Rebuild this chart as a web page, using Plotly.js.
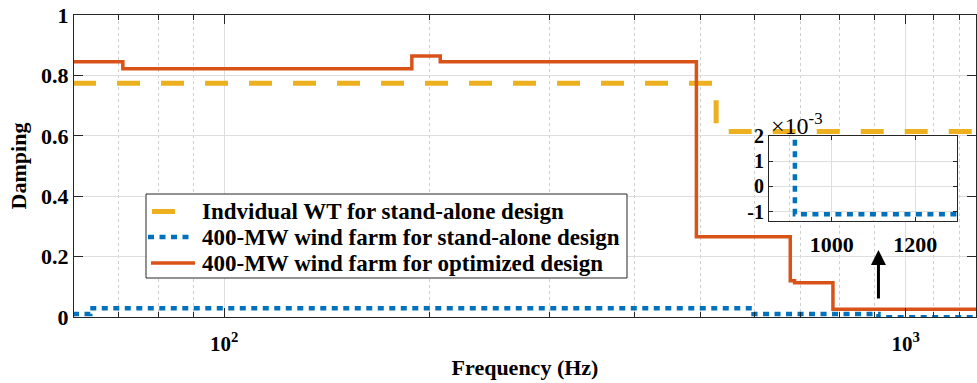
<!DOCTYPE html>
<html><head><meta charset="utf-8">
<script src="https://cdn.plot.ly/plotly-3.0.1.min.js"></script>
<style>html,body{margin:0;padding:0;background:#fff}#chart{width:977px;height:383px}</style>
</head><body><div id="chart"></div>
<script>
// ---- data ----
const legendNames = ['Indvidual WT for stand-alone design', '400-MW wind farm for stand-alone design', '400-MW wind farm for optimized design'];
const freqWT = [60, 527, 1300];
const dampWT = [0.774, 0.614, 0.614];
const freqSA = [60, 63.6, 598, 912, 1300];
const dampSA = [0.01, 0.029, 0.01, -0.0011, -0.0011];
const freqOpt = [60, 71, 188.5, 207.5, 493, 677, 687, 782, 1300];
const dampOpt = [0.845, 0.822, 0.864, 0.845, 0.266, 0.12, 0.113, 0.026, 0.026];
const xTickVals = [100, 1000];
const xTickText = ['10<sup>2</sup>', '10<sup>3</sup>'];
const xMinorVals = [70, 80, 90, 200, 300, 400, 500, 600, 700, 800, 900, 1100, 1200];
const yTickVals = [0, 0.2, 0.4, 0.6, 0.8, 1];
const yTickText = ['0', '0.2', '0.4', '0.6', '0.8', '1'];
const insetXTicks = [1000, 1200];
const insetXMinor = [900, 1100];
const insetYTicks = [-0.001, 0, 0.001, 0.002];
const insetYText = ['-1', '0', '1', '2'];

const FONT = '"Liberation Serif", "Times New Roman", Times, serif';
const AX = '#262626';
const GRID = '#dedede';
const cYellow = '#EDB120', cBlue = '#0072BD', cOrange = '#D95319';
const bf = (s) => ({family: FONT, size: s, color: '#000', weight: 'bold'});

const lineWT = {shape: 'hv', color: cYellow, width: 5, dash: '23px,21px'};
const lineSA = {shape: 'hv', color: cBlue, width: 4.5, dash: '6px,5.5px'};
const lineOpt = {shape: 'hv', color: cOrange, width: 3.5};
const lineStyles = [lineWT, lineSA, lineOpt];

const traces = [
  {x: freqWT, y: dampWT, name: legendNames[0], mode: 'lines', line: lineWT},
  {x: freqSA, y: dampSA, name: legendNames[1], mode: 'lines', line: lineSA},
  {x: freqOpt, y: dampOpt, name: legendNames[2], mode: 'lines', line: lineOpt},
  {x: freqSA, y: dampSA, xaxis: 'x2', yaxis: 'y2', mode: 'lines', line: lineSA}
];

// plot-area geometry (px) for the hand-built legend box
const M = {l: 74, r: 1, t: 15, b: 66};
const PW = 977 - M.l - M.r, PH = 383 - M.t - M.b;
const px = p => (p - M.l) / PW;
const py = p => (383 - M.b - p) / PH;
const LEG = {l: 146, r: 627, t: 194, b: 278, textX: 200};
const legRowY = [211.5, 237, 263];
const legSample = [[152, 175], [148, 191], [151, 195]];

const shapes = [
  {type: 'rect', xref: 'paper', yref: 'paper', x0: px(LEG.l), x1: px(LEG.r), y0: py(LEG.b), y1: py(LEG.t),
   fillcolor: '#fff', line: {color: AX, width: 1}, layer: 'above'}
];
const annotations = [];
legendNames.forEach((n, i) => {
  const st = lineStyles[i];
  shapes.push({type: 'line', xref: 'paper', yref: 'paper', x0: px(legSample[i][0]), x1: px(legSample[i][1]),
    y0: py(legRowY[i]), y1: py(legRowY[i]), line: {color: st.color, width: st.width, dash: st.dash || 'solid'}, layer: 'above'});
  annotations.push({xref: 'paper', yref: 'paper', x: px(LEG.textX), y: py(legRowY[i]), xanchor: 'left', yanchor: 'middle',
    text: n, showarrow: false, font: bf(23)});
});
annotations.push(
  {xref: 'x2 domain', yref: 'y2 domain', x: 0.0, y: 1, xanchor: 'left', yanchor: 'bottom', yshift: -5,
   text: '×10<sup>-3</sup>', showarrow: false, font: {family: FONT, size: 24, color: '#000', weight: 'normal'}},
  {xref: 'x', yref: 'y', x: Math.log10(912), y: 0.222, ax: 0, ay: 50, text: '', showarrow: true,
   arrowhead: 2, arrowsize: 1, arrowwidth: 3, arrowcolor: '#000', standoff: 0}
);

const layout = {
  width: 977, height: 383,
  margin: M,
  paper_bgcolor: '#fff', plot_bgcolor: '#fff',
  font: bf(22),
  showlegend: false,
  xaxis: {
    type: 'log', range: [Math.log10(60.2), Math.log10(1268)],
    tickmode: 'array', tickvals: xTickVals, ticktext: xTickText,
    ticks: 'inside', ticklen: 9, tickcolor: AX, showline: true, linecolor: AX, linewidth: 1, mirror: 'ticks',
    showgrid: true, gridcolor: GRID, zeroline: false, ticklabelstandoff: 8,
    tickfont: bf(21),
    minor: {tickmode: 'array', tickvals: xMinorVals, ticks: 'inside', ticklen: 5, tickcolor: AX, showgrid: true, gridcolor: '#cfcfcf', griddash: 'dot'},
    title: {text: 'Frequency (Hz)', standoff: 4, font: bf(22)}
  },
  yaxis: {
    range: [0, 1], tickmode: 'array', tickvals: yTickVals, ticktext: yTickText,
    ticks: 'inside', ticklen: 9, tickcolor: AX, showline: true, linecolor: AX, linewidth: 1, mirror: 'ticks',
    showgrid: true, gridcolor: GRID, zeroline: false,
    tickfont: bf(22),
    title: {text: 'Damping', standoff: 8, font: bf(22)}
  },
  xaxis2: {
    domain: [0.7705, 0.979], anchor: 'y2', range: [850, 1300],
    tickmode: 'array', tickvals: insetXTicks, ticks: 'inside', ticklen: 4, tickcolor: AX,
    showline: true, linecolor: AX, linewidth: 1, mirror: 'ticks', showgrid: true, gridcolor: GRID, zeroline: false,
    tickfont: bf(22), ticklabelstandoff: 4,
    minor: {tickmode: 'array', tickvals: insetXMinor, ticks: '', showgrid: true, gridcolor: '#cfcfcf', griddash: 'dot'}
  },
  yaxis2: {
    domain: [0.318, 0.599], anchor: 'x2', range: [-0.00137, 0.002],
    tickmode: 'array', tickvals: insetYTicks, ticktext: insetYText, ticks: 'inside', ticklen: 4, tickcolor: AX,
    showline: true, linecolor: AX, linewidth: 1, mirror: 'ticks', showgrid: true, gridcolor: GRID, zeroline: false,
    tickfont: bf(20)
  },
  shapes: shapes,
  annotations: annotations
};

Plotly.newPlot('chart', traces, layout, {displayModeBar: false, staticPlot: true});
</script>
</body></html>
